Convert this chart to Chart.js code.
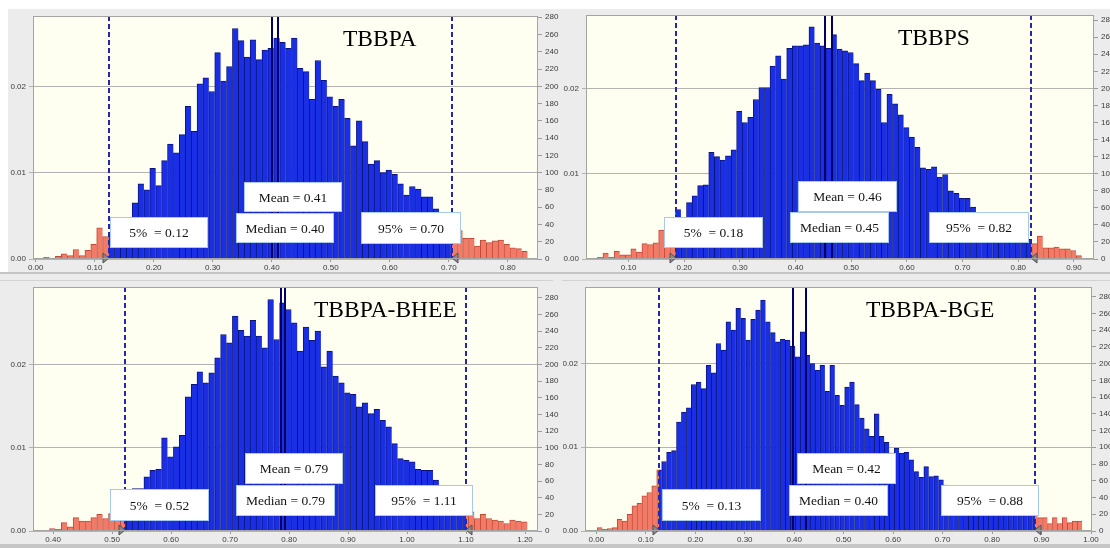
<!DOCTYPE html>
<html>
<head>
<meta charset="utf-8">
<script src="https://cdn.jsdelivr.net/npm/chart.js@4.4.1/dist/chart.umd.min.js"></script>
<style>
html,body{margin:0;padding:0;background:#fff;}
#page{position:relative;width:1110px;height:548px;overflow:hidden;background:#ececec;}
.band{position:absolute;}
canvas{position:absolute;}
</style>
</head>
<body>
<div id="page">
  <div class="band" style="left:0;top:0;width:1110px;height:9px;background:#fff"></div>
  <div class="band" style="left:0;top:0;width:8px;height:272px;background:#fff"></div>
  <div class="band" style="left:0;top:272px;width:1110px;height:2px;background:#c4c4c4"></div>
  <div class="band" style="left:0;top:280px;width:553px;height:1px;background:#d2d2d2"></div>
  <div class="band" style="left:562px;top:280px;width:548px;height:1px;background:#d2d2d2"></div>
  <div class="band" style="left:0;top:544px;width:1110px;height:4px;background:#c6c6c6"></div>
  <canvas id="c1" width="563" height="275" style="left:0;top:0"></canvas>
  <canvas id="c2" width="547" height="275" style="left:563px;top:0"></canvas>
  <canvas id="c3" width="563" height="273" style="left:0;top:275px"></canvas>
  <canvas id="c4" width="547" height="273" style="left:563px;top:275px"></canvas>
</div>
<script>
// ---------------- DATA ----------------
const BIN_WIDTH = 0.01;

// TBBPA
const tbbpaTitle = 'TBBPA';
const tbbpaBinStart = 0.0133;
const tbbpaCounts = [
  2,1,3,6,4,11,4,10,17,36,
  26,30,36,42,48,65,87,80,105,85,
  114,133,123,144,177,148,203,210,194,239,
  206,223,267,253,234,254,231,242,244,256,
  251,244,256,221,217,185,230,207,188,177,
  185,163,131,160,136,110,114,100,103,98,
  87,74,84,81,72,72,58,54,45,37,
  33,24,24,15,22,19,21,22,17,13,
  12,9
];
const tbbpaStats = [0.124, 0.400, 0.411, 0.705];          // 5%, median, mean, 95%
const tbbpaLabels = ['5%  = 0.12', 'Median = 0.40', 'Mean = 0.41', '95%  = 0.70'];

// TBBPS
const tbbpsTitle = 'TBBPS';
const tbbpsBinStart = 0.044;
const tbbpsCounts = [
  2,7,2,9,5,5,12,8,18,17,
  19,34,38,44,58,46,66,74,86,87,
  125,120,116,121,128,173,160,166,187,201,
  201,226,238,211,247,250,250,251,272,253,
  250,247,263,246,244,242,229,209,218,209,
  199,160,193,182,169,154,143,131,107,105,
  108,96,99,80,77,71,71,61,52,48,
  45,40,36,33,30,28,26,23,18,27,
  13,13,14,12,12,10,4
];
const tbbpsStats = [0.185, 0.453, 0.466, 0.8235];
const tbbpsLabels = ['5%  = 0.18', 'Median = 0.45', 'Mean = 0.46', '95%  = 0.82'];

// TBBPA-BHEE
const bheeTitle = 'TBBPA-BHEE';
const bheeBinStart = 0.394;
const bheeCounts = [
  3,2,10,5,16,12,12,16,20,15,
  21,28,32,48,51,51,65,73,74,112,
  89,101,115,161,176,191,178,190,208,236,
  226,258,241,234,253,234,220,278,230,274,
  266,250,216,245,229,240,197,216,186,178,
  166,164,149,154,141,146,133,125,105,87,
  85,83,74,73,73,61,50,44,38,30,
  24,23,15,20,15,13,12,9,13,12,
  11
];
const bheeStats = [0.522, 0.787, 0.793, 1.100];
const bheeLabels = ['5%  = 0.52', 'Median = 0.79', 'Mean = 0.79', '95%  = 1.11'];

// TBBPA-BGE
const bgeTitle = 'TBBPA-BGE';
const bgeBinStart = 0.002;
const bgeCounts = [
  4,2,3,4,14,12,20,30,33,42,
  46,54,73,83,94,96,130,142,147,175,
  178,170,198,189,224,216,250,240,266,254,
  228,253,264,276,250,237,226,229,228,221,
  208,238,210,200,192,198,167,198,162,150,
  172,178,151,135,122,113,140,113,106,93,
  99,93,94,85,71,64,77,65,66,61,
  55,52,50,47,45,42,40,38,36,34,
  32,30,28,27,26,25,24,22,20,16,
  16,9,16,9,16,10,12,12
];
const bgeStats = [0.126, 0.397, 0.423, 0.887];
const bgeLabels = ['5%  = 0.13', 'Median = 0.40', 'Mean = 0.42', '95%  = 0.88'];

// ---------------- LAYOUT ----------------
const layouts = [
  {id:'c1', title:tbbpaTitle, start:tbbpaBinStart, counts:tbbpaCounts, stats:tbbpaStats, labels:tbbpaLabels,
   padTop:16, leftW:33, rightW:25, bottomH:16, xmin:-0.0046, xmax:0.851, ymax:281.5,
   boxes:{p5:[110,217,98,31], median:[236,213,98,30], mean:[244,182,98,30], p95:[361,212,100,32]}, titlePos:[343,46]},
  {id:'c2', title:tbbpsTitle, start:tbbpsBinStart, counts:tbbpsCounts, stats:tbbpsStats, labels:tbbpsLabels,
   padTop:15, leftW:23, rightW:16, bottomH:16, xmin:0.0235, xmax:0.936, ymax:286,
   boxes:{p5:[101,217,99,31], median:[227,212,99,31], mean:[235,181,99,31], p95:[366,212,100,31]}, titlePos:[335,45]},
  {id:'c3', title:bheeTitle, start:bheeBinStart, counts:bheeCounts, stats:bheeStats, labels:bheeLabels,
   padTop:12, leftW:33, rightW:25, bottomH:17, xmin:0.366, xmax:1.222, ymax:293,
   boxes:{p5:[110,214,99,32], median:[236,210,99,31], mean:[245,178,98,31], p95:[375,210,98,31]}, titlePos:[314,42]},
  {id:'c4', title:bgeTitle, start:bgeBinStart, counts:bgeCounts, stats:bgeStats, labels:bgeLabels,
   padTop:12, leftW:22, rightW:18, bottomH:17, xmin:-0.023, xmax:1.002, ymax:291.5,
   boxes:{p5:[99,214,99,32], median:[226,210,99,31], mean:[234,178,99,31], p95:[378,210,98,31]}, titlePos:[303,42]}
];

const BLUE = '#1a2ee4', BLUE_EDGE = '#0a1478';
const RED = '#f27a66', RED_EDGE = '#bf4a38';
const TICK_FONT = {family:'"Liberation Sans", Arial, sans-serif', size:8};
const TICK_COLOR = '#3a3a3a';

function splitGradient(chart, lo, hi, inner, outer) {
  const {ctx, chartArea, scales} = chart;
  if (!chartArea || !scales.x) return inner;
  const x0 = chartArea.left, x1 = chartArea.right;
  const g = ctx.createLinearGradient(x0, 0, x1, 0);
  const c = v => Math.min(1, Math.max(0, v));
  const a = c((scales.x.getPixelForValue(lo) - x0) / (x1 - x0));
  const b = c((scales.x.getPixelForValue(hi) - x0) / (x1 - x0));
  g.addColorStop(0, outer); g.addColorStop(a, outer);
  g.addColorStop(a, inner); g.addColorStop(b, inner);
  g.addColorStop(b, outer); g.addColorStop(1, outer);
  return g;
}

function overlayPlugin(L) {
  return {
    id: 'overlay_' + L.id,
    beforeDraw(chart) {
      const {ctx, chartArea:a} = chart;
      ctx.save();
      ctx.fillStyle = '#fffff1';
      ctx.fillRect(a.left, a.top, a.right - a.left, a.bottom - a.top);
      ctx.restore();
    },
    afterDatasetsDraw(chart) {
      const {ctx, chartArea:a, scales} = chart;
      const px = v => Math.round(scales.x.getPixelForValue(v));
      const [p5, med, mean, p95] = L.stats;
      ctx.save();
      // percentile dashed lines
      ctx.strokeStyle = '#2626a6'; ctx.lineWidth = 2; ctx.setLineDash([5, 3]);
      [p5, p95].forEach(v => { const X = px(v); ctx.beginPath(); ctx.moveTo(X, a.top); ctx.lineTo(X, a.bottom); ctx.stroke(); });
      // mean / median
      ctx.setLineDash([]); ctx.strokeStyle = '#00006a'; ctx.lineWidth = 2;
      [med, mean].forEach(v => { const X = px(v); ctx.beginPath(); ctx.moveTo(X, a.top); ctx.lineTo(X, a.bottom); ctx.stroke(); });
      // triangles on the axis
      ctx.fillStyle = '#8a8a8a'; ctx.strokeStyle = '#505050'; ctx.lineWidth = 1;
      const by = a.bottom;
      let X = px(p5);
      ctx.beginPath(); ctx.moveTo(X - 6, by - 6); ctx.lineTo(X - 6, by + 4); ctx.lineTo(X, by - 1); ctx.closePath(); ctx.fill(); ctx.stroke();
      X = px(p95);
      ctx.beginPath(); ctx.moveTo(X + 6, by - 6); ctx.lineTo(X + 6, by + 4); ctx.lineTo(X, by - 1); ctx.closePath(); ctx.fill(); ctx.stroke();
      // label boxes
      const order = [['mean', 2], ['median', 1], ['p5', 0], ['p95', 3]];
      ctx.font = '13.5px "Liberation Serif", "Times New Roman", serif';
      ctx.textAlign = 'center'; ctx.textBaseline = 'middle';
      order.forEach(([k, i]) => {
        const [bx, byy, bw, bh] = L.boxes[k];
        ctx.fillStyle = '#ffffff'; ctx.fillRect(bx, byy, bw, bh);
        ctx.strokeStyle = '#a9c9ea'; ctx.lineWidth = 1; ctx.strokeRect(bx + 0.5, byy + 0.5, bw - 1, bh - 1);
        ctx.fillStyle = '#141414';
        ctx.fillText(L.labels[i], bx + bw / 2, byy + bh / 2 + 1);
      });
      // title
      ctx.font = '23.5px "Liberation Serif", "Times New Roman", serif';
      ctx.textAlign = 'left'; ctx.textBaseline = 'alphabetic'; ctx.fillStyle = '#000';
      ctx.fillText(L.title, L.titlePos[0], L.titlePos[1]);
      // plot frame
      ctx.strokeStyle = '#a4a4a4'; ctx.lineWidth = 1;
      ctx.strokeRect(a.left + 0.5, a.top + 0.5, a.right - a.left - 1, a.bottom - a.top - 1);
      ctx.restore();
    }
  };
}

function makePanel(L) {
  // bin centres of the histogram grid
  const pts = L.counts.map((c, i) => ({x: L.start + BIN_WIDTH * (i + 0.5), y: c}));
  const [p5, , , p95] = L.stats;
  new Chart(document.getElementById(L.id), {
    type: 'bar',
    data: {datasets: [{
      data: pts,
      xAxisID: 'x', yAxisID: 'yc',
      barPercentage: 1, categoryPercentage: 1,
      backgroundColor: ctx => splitGradient(ctx.chart, p5, p95, BLUE, RED),
      borderColor: ctx => splitGradient(ctx.chart, p5, p95, BLUE_EDGE, RED_EDGE),
      borderWidth: {left: 1, top: 1, right: 0, bottom: 0},
      borderSkipped: 'start'
    }]},
    options: {
      responsive: false, animation: false,
      layout: {padding: {top: L.padTop, left: 0, right: 0, bottom: 0}},
      plugins: {legend: {display: false}, tooltip: {enabled: false}},
      scales: {
        x: {
          type: 'linear', min: L.xmin, max: L.xmax, offset: false,
          grid: {drawOnChartArea: false, offset: false, tickLength: 3, color: '#9a9a9a'},
          border: {display: false},
          ticks: {stepSize: 0.1, includeBounds: false, autoSkip: false, maxRotation: 0, padding: 1,
                  font: TICK_FONT, color: TICK_COLOR, callback: v => v.toFixed(2)},
          afterFit: s => { s.height = L.bottomH; }
        },
        yd: {
          type: 'linear', position: 'left', min: 0, max: L.ymax / 10000,
          grid: {drawOnChartArea: true, color: '#b2b2b2', tickLength: 4},
          border: {display: false},
          ticks: {stepSize: 0.01, includeBounds: false, padding: 3, font: TICK_FONT, color: TICK_COLOR,
                  callback: v => v.toFixed(2)},
          afterFit: s => { s.width = L.leftW; }
        },
        yc: {
          type: 'linear', position: 'right', min: 0, max: L.ymax,
          grid: {drawOnChartArea: false, color: '#9a9a9a', tickLength: 4},
          border: {display: false},
          ticks: {stepSize: 20, includeBounds: false, padding: 3, font: TICK_FONT, color: TICK_COLOR},
          afterFit: s => { s.width = L.rightW; }
        }
      }
    },
    plugins: [overlayPlugin(L)]
  });
}

layouts.forEach(makePanel);
</script>
</body>
</html>
